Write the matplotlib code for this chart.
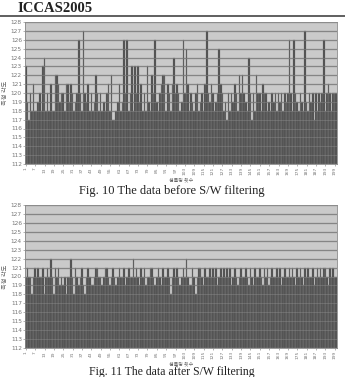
import matplotlib
matplotlib.use("Agg")
import matplotlib.pyplot as plt
import numpy as np

# ---- data ----
samples = list(range(1, 201))
before = [
    123,119,117,120,118,121,118,118,119,120,
    118,123,124,118,120,118,121,118,118,122,
    122,121,119,120,120,118,121,121,119,121,
    120,118,119,120,126,120,118,127,120,119,
    121,118,120,118,119,122,120,118,120,118,
    119,118,120,121,118,122,117,117,118,119,
    121,118,119,126,120,126,118,120,123,118,
    123,120,123,119,121,118,120,118,123,119,
    118,122,120,126,119,118,120,121,122,122,
    118,121,120,118,121,124,120,121,120,118,
    119,126,120,125,121,118,120,119,118,120,
    121,118,119,120,118,121,127,120,119,121,
    120,118,119,120,125,121,120,118,119,117,
    120,118,120,119,121,120,118,122,120,122,
    120,119,118,124,120,117,120,118,122,120,
    120,118,121,120,120,118,119,118,120,119,
    120,118,120,119,120,118,120,119,120,126,
    120,118,126,120,119,118,120,119,118,127,
    119,118,120,119,120,117,120,118,120,119,
    120,126,118,120,121,120,118,120,120,120,
]
after = [
    120,121,120,120,118,120,121,120,121,120,
    120,121,118,120,121,120,122,120,118,121,
    120,121,119,120,119,120,118,120,120,122,
    120,118,121,120,119,120,121,119,118,120,
    121,120,119,119,120,121,121,120,120,119,
    120,121,121,120,119,120,121,120,119,120,
    121,120,120,121,119,120,121,120,120,122,
    120,121,120,119,121,120,121,119,120,120,
    121,121,120,119,120,121,120,119,121,120,
    120,121,120,118,120,121,120,121,120,119,
    120,121,120,122,120,119,119,121,120,118,
    120,121,121,120,119,121,120,120,121,120,
    121,120,121,119,120,121,120,121,120,121,
    120,121,119,120,121,120,119,120,121,120,
    120,121,120,119,121,120,119,121,120,120,
    121,120,119,121,120,121,119,120,121,120,
    120,121,120,121,119,120,121,120,120,121,
    120,121,120,119,121,120,121,120,119,121,
    120,121,120,120,121,119,120,121,120,121,
    120,121,121,120,119,121,120,121,120,120,
]
xticks = list(range(1, 200, 6))
yticks = list(range(112, 129))
header = "ICCAS2005"
caption_top = "Fig. 10 The data before S/W filtering"
caption_bot = "Fig. 11 The data after S/W filtering"
xlabel = "샘플링 횟수"
ylabel = "측정 각도"

W, H = 345, 377
fig = plt.figure(figsize=(W/100, H/100), dpi=100)
fig.patch.set_facecolor("white")

cjk = ["Noto Sans CJK KR", "DejaVu Sans"]

def draw(ax, vals):
    ax.set_facecolor("#cacaca")
    ax.bar(samples, [v - 112 for v in vals], bottom=112, width=1.0,
           color="#4a4a4a", edgecolor="#858585", linewidth=0.25, zorder=2)
    for y in yticks:
        ax.axhline(y, color="#7a7a7a", lw=0.9, zorder=1)
        ax.axhline(y, color="#9a9a9a", lw=0.5, alpha=0.5, zorder=3)
    ax.set_xlim(0.5, 200.5)
    ax.set_ylim(112, 128)
    ax.set_yticks(yticks)
    ax.set_yticklabels([str(t) for t in yticks], fontsize=4.2, color="#555555")
    ax.set_xticks(xticks)
    ax.set_xticklabels([str(t) for t in xticks], rotation=90, fontsize=3.2, color="#777777")
    ax.tick_params(length=1.2, width=0.4, pad=1, colors="#777777")
    for s in ax.spines.values():
        s.set_color("#888888")
        s.set_linewidth(0.6)
    ax.set_xlabel(xlabel, fontsize=3.6, family=cjk, color="#666666", labelpad=1.5)
    ax.set_ylabel(ylabel, fontsize=4.5, family=cjk, color="#666666")
    ax.yaxis.set_label_coords(-0.052, 0.5)

ax1 = fig.add_axes([25/W, 1-164/H, 312/W, 142/H])
draw(ax1, before)
ax2 = fig.add_axes([25/W, 1-348/H, 312/W, 143/H])
draw(ax2, after)

fig.text(17/W, 1-8/H, header, fontsize=10.5, fontweight="bold",
         family="Liberation Serif", va="center", ha="left", color="#222222")
fig.add_artist(plt.Line2D([0, 1], [1-16/H, 1-16/H], color="#444444", lw=1.2))
fig.text(172/W, 1-191/H, caption_top, fontsize=9, family="Liberation Serif",
         ha="center", va="center", color="#222222")
fig.text(172/W, 1-372.5/H, caption_bot, fontsize=8.5, family="Liberation Serif",
         ha="center", va="center", color="#222222")

fig.savefig("out.png", dpi=100)
